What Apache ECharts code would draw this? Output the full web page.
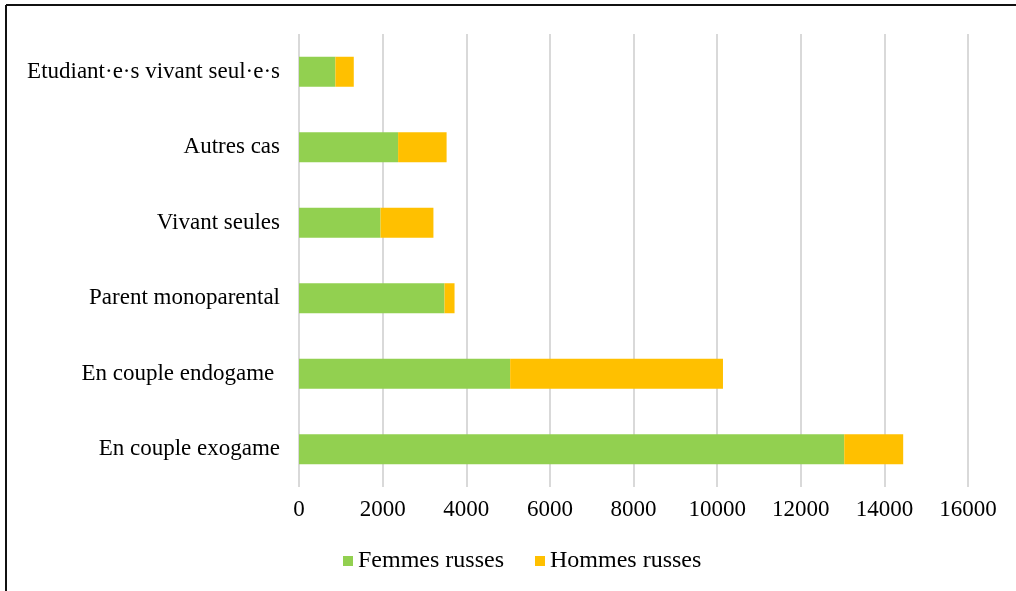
<!DOCTYPE html>
<html>
<head>
<meta charset="utf-8">
<script src="https://cdn.jsdelivr.net/npm/echarts@6/dist/echarts.min.js"></script>
<style>
  html, body { margin: 0; padding: 0; background: #fff; }
  #chart { width: 1016px; height: 591px; }
</style>
</head>
<body>
<div id="chart"></div>
<script>
// categories, bottom to top (as drawn on the category axis)
const categories = [
  "En couple exogame",
  "En couple endogame ",
  "Parent monoparental",
  "Vivant seules",
  "Autres cas",
  "Etudiant·e·s vivant seul·e·s"
];
const femmes = [13040, 5050, 3480, 1950, 2370, 870];
const hommes = [1410, 5090, 240, 1265, 1160, 440];
const xTicks = [0, 2000, 4000, 6000, 8000, 10000, 12000, 14000, 16000];

const font = "'Liberation Serif', 'Times New Roman', serif";

var myChart = echarts.init(document.getElementById("chart"));
myChart.setOption({
  animation: false,
  backgroundColor: "#fff",
  textStyle: { fontFamily: font },
  // outer frame: only top and left edges are inside the picture
  graphic: [
    {
      type: "line",
      shape: { x1: 6, y1: 5, x2: 1016, y2: 5 },
      style: { stroke: "#111", lineWidth: 2 },
      silent: true
    },
    {
      type: "line",
      shape: { x1: 6, y1: 5, x2: 6, y2: 591 },
      style: { stroke: "#111", lineWidth: 2 },
      silent: true
    }
  ],
  grid: { left: 299, top: 34, width: 669, height: 453, containLabel: false },
  legend: {
    left: 338,
    top: 544,
    itemWidth: 10,
    itemHeight: 10,
    itemGap: 31,
    icon: "rect",
    textStyle: { fontFamily: font, fontSize: 24, color: "#000" },
    data: ["Femmes russes", "Hommes russes"]
  },
  xAxis: {
    type: "value",
    min: xTicks[0],
    max: xTicks[xTicks.length - 1],
    interval: 2000,
    axisLine: { show: false },
    axisTick: { show: false },
    axisLabel: {
      fontFamily: font,
      fontSize: 23,
      color: "#000",
      margin: 11,
      formatter: function (value) {
        return String(value);
      }
    },
    splitLine: { show: true, lineStyle: { color: "#d9d9d9", width: 2 } }
  },
  yAxis: {
    type: "category",
    data: categories,
    axisLine: { show: false },
    axisTick: { show: false },
    axisLabel: { fontFamily: font, fontSize: 23, color: "#000", margin: 19 }
  },
  series: [
    {
      name: "Femmes russes",
      type: "bar",
      stack: "total",
      barWidth: 30,
      itemStyle: { color: "#92d050" },
      data: femmes
    },
    {
      name: "Hommes russes",
      type: "bar",
      stack: "total",
      barWidth: 30,
      itemStyle: { color: "#ffc000" },
      data: hommes
    }
  ]
});
</script>
</body>
</html>
